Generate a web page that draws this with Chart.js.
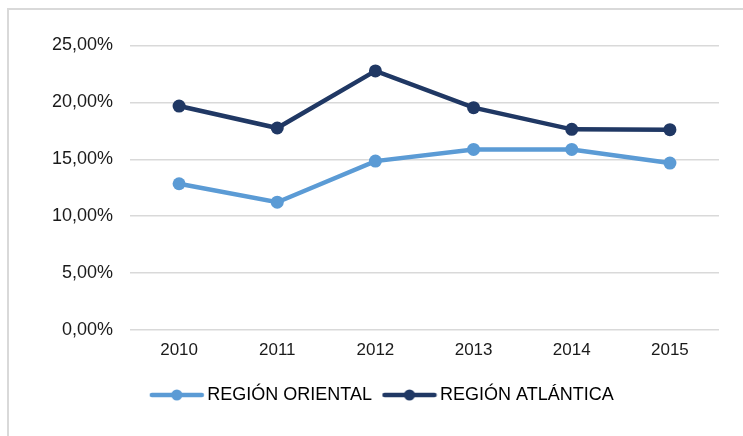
<!DOCTYPE html>
<html>
<head>
<meta charset="utf-8">
<script src="https://cdn.jsdelivr.net/npm/chart.js@4"></script>
<style>
  body { margin: 0; background: #fff; }
  #frame { position: absolute; left: 7px; top: 8px; width: 900px; height: 600px; border: 2px solid #d9d9d9; }
  #chart { position: absolute; left: 0; top: 0; }
</style>
</head>
<body>
<div id="frame"></div>
<canvas id="chart" width="743" height="436"></canvas>
<script>
const years = ['2010', '2011', '2012', '2013', '2014', '2015'];
const oriental = [12.85, 11.23, 14.84, 15.87, 15.87, 14.67];
const atlantica = [19.68, 17.75, 22.77, 19.54, 17.63, 17.60];
const yTicks = [0, 5, 10, 15, 20, 25];

const lightBlue = '#5b9bd5';
const darkBlue = '#203864';

// legend marker: short line with a dot in the middle
function legendMark(color) {
    let c = document.createElement('canvas');
    c.width = 56;
    c.height = 14;
    let g = c.getContext('2d');
    g.strokeStyle = color;
    g.lineWidth = 4.5;
    g.lineCap = 'round';
    g.beginPath();
    g.moveTo(3, 7);
    g.lineTo(53, 7);
    g.stroke();
    g.fillStyle = color;
    g.beginPath();
    g.arc(28, 7, 5.5, 0, Math.PI * 2);
    g.fill();
    return c;
}

Chart.defaults.font.family = "'Liberation Sans', Arial, sans-serif";
Chart.defaults.font.size = 17;
Chart.defaults.color = '#1a1a1a';

let ctx = document.getElementById('chart');
let stockChart = new Chart(ctx, {
    type: 'line',
    data: {
        labels: years,
        datasets: [{
            label: 'REGIÓN ORIENTAL',
            data: oriental,
            borderColor: lightBlue,
            backgroundColor: lightBlue,
            borderWidth: 4.5,
            pointRadius: 6.5,
            pointBorderWidth: 0,
        },
        {
            label: 'REGIÓN ATLÁNTICA',
            data: atlantica,
            borderColor: darkBlue,
            backgroundColor: darkBlue,
            borderWidth: 4.5,
            pointRadius: 6.5,
            pointBorderWidth: 0,
        }]
    },
    options: {
        responsive: false,
        animation: false,
        layout: { padding: { left: 50, right: 24, top: 45.5, bottom: 22 } },
        plugins: {
            tooltip: { enabled: false },
            legend: {
                position: 'bottom',
                labels: {
                    font: { size: 18 },
                    usePointStyle: true,
                    pointStyleWidth: 43,
                    padding: 16,
                    generateLabels: chart => chart.data.datasets.map((ds, i) => ({
                        text: ds.label,
                        pointStyle: legendMark(ds.borderColor),
                        fillStyle: ds.borderColor,
                        strokeStyle: ds.borderColor,
                        lineWidth: 0,
                        datasetIndex: i,
                    }))
                }
            }
        },
        scales: {
            x: {
                offset: true,
                grid: { display: false, drawTicks: false },
                border: { display: false },
                ticks: { padding: 10 },
                afterFit: axis => { axis.height = 40; }
            },
            y: {
                min: 0,
                max: 25,
                afterBuildTicks: axis => { axis.ticks = yTicks.map(v => ({ value: v })); },
                grid: { color: '#d9d9d9', lineWidth: 1.5, drawTicks: false },
                border: { display: false },
                ticks: {
                    font: { size: 18 },
                    padding: 17,
                    callback: v => v.toFixed(2).replace('.', ',') + '%'
                },
                afterFit: axis => { axis.width = 80; }
            }
        }
    }
});
</script>
</body>
</html>
